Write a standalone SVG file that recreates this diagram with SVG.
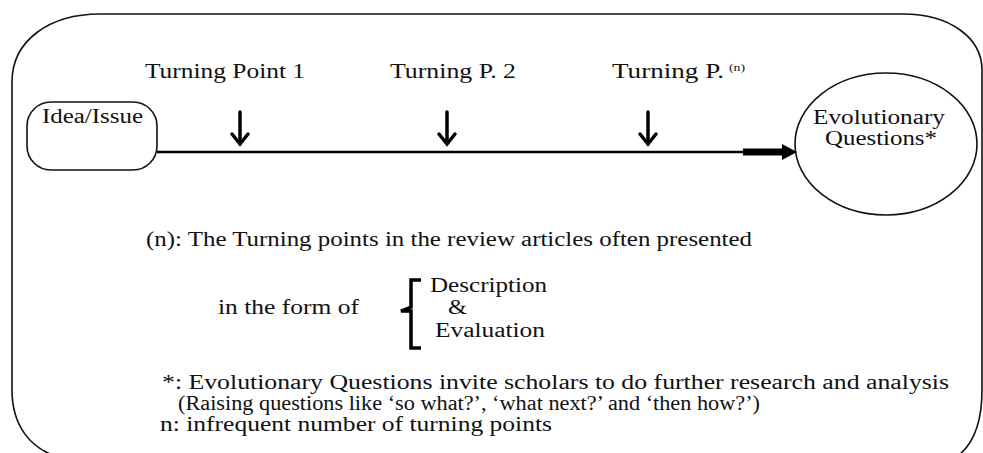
<svg xmlns="http://www.w3.org/2000/svg" width="983" height="453" viewBox="0 0 983 453">
  <defs>
    <style>
      text { font-family: 'Liberation Serif', 'Times New Roman', Times, serif; fill: #111; }
      .t { font-size: 20px; }
      .sup { font-size: 11px; }
      .shape { fill: none; stroke: #111; stroke-width: 1.6; }
      .ln { fill: none; stroke: #000; stroke-width: 2.6; }
      .dn { fill: none; stroke: #000; stroke-width: 3.5; stroke-linecap: round; stroke-linejoin: miter; }
    </style>
  </defs>
  <rect x="0" y="0" width="983" height="453" fill="#fff"/>

  <g id="frame">
    <path class="shape" d="M 62,458 C 30,450 12,425 12,390 L 12,82 C 12,40 50,14 100,14 L 903,14 C 950,14 982,38 982,70 L 982,390 C 982,428 970,448 955,458"/>
  </g>

  <g id="labels">
    <text class="t" x="145" y="78" textLength="160" lengthAdjust="spacingAndGlyphs">Turning Point 1</text>
    <text class="t" x="390" y="78" textLength="126" lengthAdjust="spacingAndGlyphs">Turning P. 2</text>
    <text class="t" x="612" y="78" textLength="112" lengthAdjust="spacingAndGlyphs">Turning P.</text>
    <text class="sup" x="729" y="71" textLength="16" lengthAdjust="spacingAndGlyphs">(n)</text>
  </g>

  <g id="node-idea">
    <rect class="shape" x="27" y="102" width="130" height="68" rx="24" ry="24"/>
    <text class="t" x="42" y="123" textLength="101" lengthAdjust="spacingAndGlyphs">Idea/Issue</text>
  </g>

  <g id="node-evolutionary">
    <ellipse class="shape" cx="886" cy="144" rx="91" ry="71"/>
    <text class="t" x="813" y="124" textLength="132" lengthAdjust="spacingAndGlyphs">Evolutionary</text>
    <text class="t" x="825" y="145" textLength="112" lengthAdjust="spacingAndGlyphs">Questions*</text>
  </g>

  <g id="connectors">
    <line class="ln" x1="157" y1="152" x2="746" y2="152"/>
    <rect x="743" y="148.5" width="42" height="7" fill="#000"/>
    <polygon points="782,144 797,152 782,160" fill="#000"/>
    <g class="dn">
      <line x1="240" y1="112" x2="240" y2="143"/>
      <polyline points="232,134 240,144 248,134"/>
      <line x1="447" y1="112" x2="447" y2="143"/>
      <polyline points="439,134 447,144 455,134"/>
      <line x1="648" y1="112" x2="648" y2="143"/>
      <polyline points="640,134 648,144 656,134"/>
    </g>
  </g>

  <g id="notes">
    <text class="t" x="146" y="246" textLength="606" lengthAdjust="spacingAndGlyphs">(n): The Turning points in the review articles often presented</text>
    <text class="t" x="218" y="314" textLength="141" lengthAdjust="spacingAndGlyphs">in the form of</text>
    <path d="M 421,280 L 411,280 L 411,307 L 401,311 L 411,311 L 411,348 L 421,348" fill="none" stroke="#000" stroke-width="3.5" stroke-linejoin="miter"/>
    <text class="t" x="430" y="292" textLength="117" lengthAdjust="spacingAndGlyphs">Description</text>
    <text class="t" x="448" y="314" textLength="19" lengthAdjust="spacingAndGlyphs">&amp;</text>
    <text class="t" x="435" y="337" textLength="110" lengthAdjust="spacingAndGlyphs">Evaluation</text>
    <text class="t" x="162" y="389" textLength="787" lengthAdjust="spacingAndGlyphs">*: Evolutionary Questions invite scholars to do further research and analysis</text>
    <text class="t" x="178" y="410" textLength="582" lengthAdjust="spacingAndGlyphs">(Raising questions like ‘so what?’, ‘what next?’ and ‘then how?’)</text>
    <text class="t" x="160" y="431" textLength="392" lengthAdjust="spacingAndGlyphs">n: infrequent number of turning points</text>
  </g>
</svg>
